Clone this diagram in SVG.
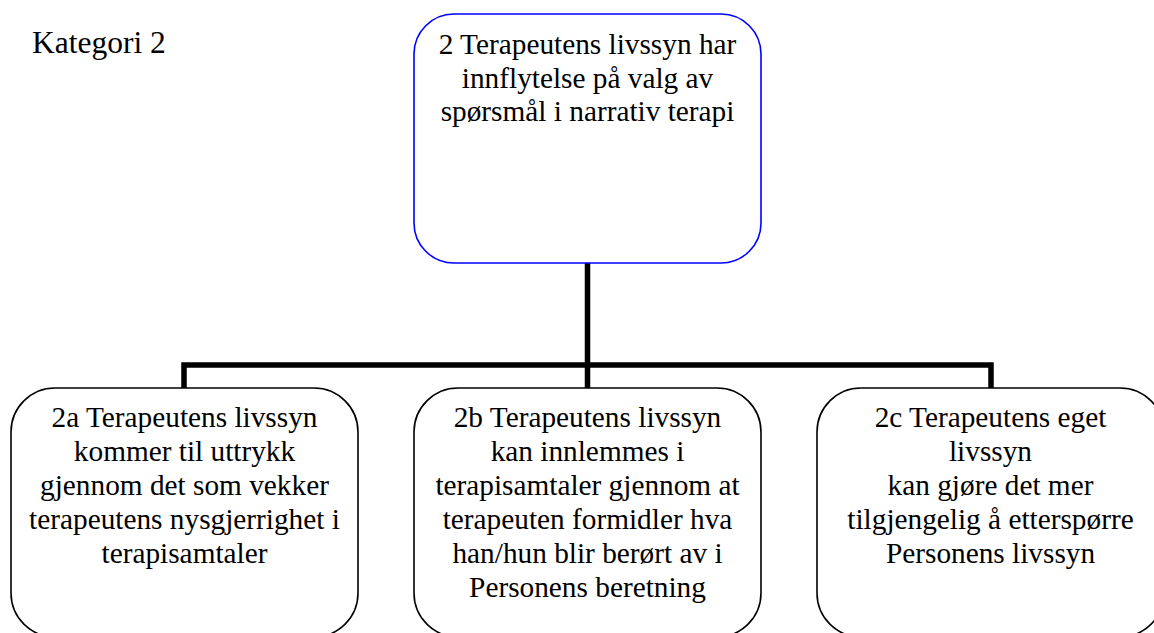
<svg xmlns="http://www.w3.org/2000/svg" width="1154" height="633" viewBox="0 0 1154 633">
<style>
.t{font-family:'Liberation Serif',serif !important;font-size:29.3px;fill:#000;text-anchor:middle}
.k{font-family:'Liberation Serif',serif !important;font-size:31.5px;fill:#000}
.box{fill:#fff;stroke:#000;stroke-width:1.6}
.top{fill:#fff;stroke:#0000ff;stroke-width:1.6}
.conn{fill:none;stroke:#000;stroke-width:5.5;stroke-linejoin:miter}
</style>
<rect width="1154" height="633" fill="#fff"/>
<text class="k" x="32" y="53" style="font-family:'Liberation Serif',serif">Kategori 2</text>
<g id="connectors">
<path class="conn" d="M587.5 263 V389 M184 389 V365 H991 V389"/>
</g>
<g id="node-2">
<rect class="top" x="414" y="14" width="347" height="249" rx="40" ry="40"/>
<text class="t" style="font-family:'Liberation Serif',serif" x="587.5" y="54">2 Terapeutens livssyn har</text>
<text class="t" style="font-family:'Liberation Serif',serif" x="587.5" y="87.5">innflytelse på valg av</text>
<text class="t" style="font-family:'Liberation Serif',serif" x="587.5" y="121">spørsmål i narrativ terapi</text>
</g>
<g id="node-2a">
<rect class="box" x="11" y="388" width="347" height="249" rx="44" ry="44"/>
<text class="t" style="font-family:'Liberation Serif',serif" x="184.5" y="427">2a Terapeutens livssyn</text>
<text class="t" style="font-family:'Liberation Serif',serif" x="184.5" y="461">kommer til uttrykk</text>
<text class="t" style="font-family:'Liberation Serif',serif" x="184.5" y="495">gjennom det som vekker</text>
<text class="t" style="font-family:'Liberation Serif',serif" x="184.5" y="529">terapeutens nysgjerrighet i</text>
<text class="t" style="font-family:'Liberation Serif',serif" x="184.5" y="563">terapisamtaler</text>
</g>
<g id="node-2b">
<rect class="box" x="414" y="388" width="347" height="249" rx="44" ry="44"/>
<text class="t" style="font-family:'Liberation Serif',serif" x="587.5" y="427">2b Terapeutens livssyn</text>
<text class="t" style="font-family:'Liberation Serif',serif" x="587.5" y="461">kan innlemmes i</text>
<text class="t" style="font-family:'Liberation Serif',serif" x="587.5" y="495">terapisamtaler gjennom at</text>
<text class="t" style="font-family:'Liberation Serif',serif" x="587.5" y="529">terapeuten formidler hva</text>
<text class="t" style="font-family:'Liberation Serif',serif" x="587.5" y="563">han/hun blir berørt av i</text>
<text class="t" style="font-family:'Liberation Serif',serif" x="587.5" y="597">Personens beretning</text>
</g>
<g id="node-2c">
<rect class="box" x="817" y="388" width="347" height="249" rx="44" ry="44"/>
<text class="t" style="font-family:'Liberation Serif',serif" x="990.5" y="427">2c Terapeutens eget</text>
<text class="t" style="font-family:'Liberation Serif',serif" x="990.5" y="461">livssyn</text>
<text class="t" style="font-family:'Liberation Serif',serif" x="990.5" y="495">kan gjøre det mer</text>
<text class="t" style="font-family:'Liberation Serif',serif" x="990.5" y="529">tilgjengelig å etterspørre</text>
<text class="t" style="font-family:'Liberation Serif',serif" x="990.5" y="563">Personens livssyn</text>
</g>
</svg>
